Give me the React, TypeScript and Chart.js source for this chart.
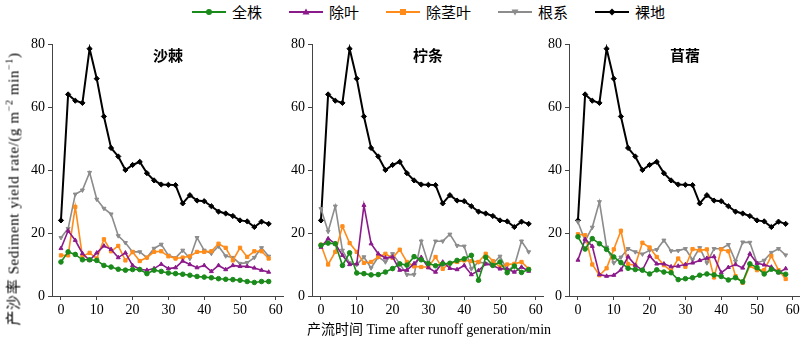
import React, { useEffect, useRef } from 'react';
import { Chart, registerables } from 'chart.js';

Chart.register(...registerables);

// ---------- data ----------
const times = [0, 2, 4, 6, 8, 10, 12, 14, 16, 18, 20, 22, 24, 26, 28, 30, 32, 34, 36, 38, 40, 42, 44, 46, 48, 50, 52, 54, 56, 58];
const legendLabels = ['全株', '除叶', '除茎叶', '根系', '裸地'];
const panelTitles = ['沙棘', '柠条', '苜蓿'];
const xTicks = [0, 10, 20, 30, 40, 50, 60];
const yTicks = [0, 20, 40, 60, 80];
const xTitle = '产流时间 Time after runoff generation/min';

const bareLand = [24, 64, 62, 61.3, 78.5, 69, 57, 47, 44.3, 40, 41.6, 42.6, 39, 36.7, 35.4, 35.3, 35.2, 29.4, 32, 30.3, 30.1, 28.5, 26.8, 26.2, 25.4, 24, 23.7, 21.9, 23.6, 22.9];

// 沙棘
const shajiWhole = [10.8, 14, 13.2, 11.5, 11.5, 11.3, 9.7, 9.2, 8.5, 8.2, 8.4, 8.4, 7.1, 8.2, 7.8, 7.3, 7.1, 6.9, 6.6, 6.2, 6, 5.8, 5.5, 5.3, 5.2, 5, 4.6, 4.3, 4.6, 4.6];
const shajiLeaf = [15.1, 20.7, 17.7, 13.5, 11.3, 13.7, 15.9, 14.8, 12.2, 13.7, 9.7, 8.5, 8.2, 8.7, 10.1, 8.7, 9, 11.1, 10, 9, 9.7, 7.8, 9.7, 8.4, 9.7, 9.4, 9.4, 8.9, 8.2, 7.6];
const shajiStemLeaf = [12.9, 12.9, 28.3, 12.6, 13.7, 11.9, 18, 14.2, 15.9, 11.3, 14, 11.1, 12.2, 14, 14.2, 12.6, 11.9, 12.2, 12.6, 14, 14, 14.2, 16.6, 15.3, 11.3, 15.3, 12.4, 14.2, 14.2, 11.9];
const shajiRoot = [18.5, 21.4, 32.3, 33.6, 39.2, 30.7, 27.8, 26, 19.1, 16.9, 14, 14, 12.2, 15.1, 16.4, 12.9, 12.1, 14.5, 11.9, 18.5, 14.5, 13.5, 15.8, 12.7, 12.2, 10.3, 10.6, 12.2, 15.3, 12.6];

// 柠条
const ningtiaoWhole = [16.1, 16.8, 16.6, 9.7, 13.7, 7.3, 7.1, 6.7, 6.8, 7.6, 8.7, 10.2, 9.8, 12.5, 11.5, 10.3, 9.6, 10.2, 10.4, 11.3, 11.8, 12.9, 5, 12.3, 9.7, 10.8, 7.4, 9.5, 7.5, 8.4];
const ningtiaoLeaf = [15.5, 18.2, 16.6, 12.9, 10, 10.2, 28.8, 16.6, 13.4, 12.1, 12.4, 8.2, 8.2, 10.3, 12.3, 9, 7.6, 10.8, 8.8, 8.4, 9.7, 6.8, 8.1, 10.2, 9.7, 8.6, 8.6, 7.6, 9.2, 7.9];
const ningtiaoStemLeaf = [16.3, 10, 14, 22.1, 16.8, 14, 10.5, 10.8, 12.4, 13.4, 12.1, 14.7, 10.8, 9.4, 9.2, 9.2, 12.4, 8.6, 10.4, 10.8, 11.3, 11.1, 10.8, 13.4, 11.1, 9.2, 10, 10.2, 10.8, 8.6];
const ningtiaoRoot = [27.7, 20.5, 28.5, 14.5, 10.5, 10, 12.4, 8.9, 12.4, 10.8, 13.4, 10.2, 6.8, 6.8, 17.4, 10.2, 17.4, 17.4, 19.6, 16, 15.8, 8.6, 10.8, 10.3, 10.3, 12.6, 8.1, 9.5, 17.4, 14];

// 苜蓿
const muxuWhole = [18.8, 14.9, 18.2, 16.6, 14.8, 12.4, 10.6, 8.8, 8.4, 8.2, 7, 8.3, 7.6, 7.4, 5.2, 5.5, 5.8, 6.6, 7, 6.7, 6.2, 5.1, 5.8, 4.5, 10.2, 9, 7, 8.5, 7.6, 6.9];
const muxuLeaf = [11.4, 18, 15.8, 6.8, 6.3, 6.6, 8.3, 12.5, 9.8, 8.2, 12.7, 10.2, 10.2, 9.3, 9.5, 10, 10.5, 11.3, 12, 12.5, 7.4, 9.1, 10, 8.9, 13.4, 10.4, 9.9, 9.2, 7.4, 8.7];
const muxuStemLeaf = [19.6, 19.3, 10, 6.6, 8.8, 14.8, 20.7, 10.1, 9.8, 16.9, 15.4, 12.4, 9.8, 8, 11.9, 9.3, 14.9, 14.5, 14.8, 5.9, 14.8, 14.2, 6.3, 4.2, 9.6, 8.2, 8.2, 12.7, 8.2, 5.4];
const muxuRoot = [23.5, 17.5, 21.8, 29.9, 15.5, 10.5, 12.3, 15, 14, 13.3, 14.5, 14.7, 17.7, 14.3, 14.4, 15, 11.5, 15.3, 10.5, 15, 15, 16.3, 11, 17.1, 17, 10.5, 11.3, 13.8, 15, 13];

// ---------- styles ----------
const colors = ['#1a8a1a', '#8b1a8b', '#ff8c1a', '#8c8c8c', '#000000'];
const pointStyles = ['circle', 'triangle', 'rect', 'triangle', 'rectRot'];
const pointRotations = [0, 0, 0, 180, 0];
const FONT = "'Liberation Serif', 'Times New Roman', 'Noto Sans CJK SC', serif";

const Y_AXIS_W = 40;
const X_AXIS_H = 30;
const TOP_PAD = 44;
const RIGHT_PAD = 14;
const PLOT_W = 231;
const PLOT_H = 252;

type PanelProps = { title: string; series: number[][]; left: number; titleX: number };

function Panel({ title, series, left, titleX }: PanelProps) {
  const ref = useRef<HTMLCanvasElement | null>(null);
  useEffect(() => {
    if (!ref.current) return;
    const all = [...series, bareLand];
    const chart = new Chart(ref.current, {
      type: 'line',
      data: {
        datasets: all.map((vals, i) => ({
          label: legendLabels[i],
          data: times.map((t, j) => ({ x: t, y: vals[j] })),
          borderColor: colors[i],
          backgroundColor: colors[i],
          borderWidth: i === 4 ? 2 : 1.6,
          pointStyle: pointStyles[i] as any,
          pointRotation: pointRotations[i],
          pointRadius: i === 4 ? 2.6 : 2.3,
          pointBorderWidth: 1,
          tension: 0,
          fill: false,
        })),
      },
      options: {
        animation: false,
        responsive: false,
        devicePixelRatio: 1,
        layout: { padding: { top: TOP_PAD, right: RIGHT_PAD, left: 0, bottom: 0 } },
        plugins: { legend: { display: false }, tooltip: { enabled: false } },
        scales: {
          x: {
            type: 'linear',
            min: -2.5,
            max: 62,
            afterBuildTicks: (s: any) => { s.ticks = xTicks.map((v) => ({ value: v })); },
            afterFit: (s: any) => { s.height = X_AXIS_H; },
            grid: { drawOnChartArea: false, drawTicks: true, tickLength: 4, color: '#444' },
            border: { display: true, color: '#444', width: 1 },
            ticks: { color: '#000', font: { family: FONT, size: 14 }, padding: 2, maxRotation: 0, autoSkip: false },
          },
          y: {
            type: 'linear',
            min: 0,
            max: 80,
            afterBuildTicks: (s: any) => { s.ticks = yTicks.map((v) => ({ value: v })); },
            afterFit: (s: any) => { s.width = Y_AXIS_W; },
            grid: { drawOnChartArea: false, drawTicks: true, tickLength: 4, color: '#444' },
            border: { display: true, color: '#444', width: 1 },
            ticks: { color: '#000', font: { family: FONT, size: 14 }, padding: 3 },
          },
        },
      },
    });
    return () => chart.destroy();
  }, []);
  const w = Y_AXIS_W + PLOT_W + RIGHT_PAD;
  const h = TOP_PAD + PLOT_H + X_AXIS_H;
  return (
    <>
      <canvas
        ref={ref}
        width={w}
        height={h}
        style={{ position: 'absolute', left, top: 0, width: w, height: h }}
      />
      <div
        style={{
          position: 'absolute',
          left: titleX,
          top: 54,
          transform: 'translate(-50%, -50%)',
          fontFamily: FONT,
          fontWeight: 'bold',
          fontSize: 15,
          whiteSpace: 'nowrap',
        }}
      >
        {title}
      </div>
    </>
  );
}

function LegendMarker({ i }: { i: number }) {
  const c = colors[i];
  const cx = 17, cy = 6;
  let m: React.ReactNode = null;
  if (i === 0) m = <circle cx={cx} cy={cy} r={3} fill={c} />;
  if (i === 1) m = <polygon points={`${cx},${cy - 3.5} ${cx + 3.5},${cy + 2.5} ${cx - 3.5},${cy + 2.5}`} fill={c} />;
  if (i === 2) m = <rect x={cx - 3} y={cy - 3} width={6} height={6} fill={c} />;
  if (i === 3) m = <polygon points={`${cx},${cy + 3.5} ${cx + 3.5},${cy - 2.5} ${cx - 3.5},${cy - 2.5}`} fill={c} />;
  if (i === 4) m = <polygon points={`${cx},${cy - 3.5} ${cx + 3.5},${cy} ${cx},${cy + 3.5} ${cx - 3.5},${cy}`} fill={c} />;
  return (
    <svg width={34} height={12} style={{ display: 'block' }}>
      <line x1={0} y1={cy} x2={34} y2={cy} stroke={c} strokeWidth={2} />
      {m}
    </svg>
  );
}

export default function App() {
  return (
    <div style={{ position: 'fixed', left: 0, top: 0, width: 800, height: 340, background: '#fff', overflow: 'hidden' }}>
      <div
        style={{
          position: 'absolute',
          left: 192,
          top: 1,
          display: 'flex',
          alignItems: 'center',
          gap: 27,
          fontFamily: FONT,
          fontSize: 15,
          whiteSpace: 'nowrap',
        }}
      >
        {legendLabels.map((lab, i) => (
          <div key={lab} style={{ display: 'flex', alignItems: 'center' }}>
            <LegendMarker i={i} />
            <span style={{ marginLeft: 6 }}>{lab}</span>
          </div>
        ))}
      </div>

      <Panel title={panelTitles[0]} series={[shajiWhole, shajiLeaf, shajiStemLeaf, shajiRoot]} left={12} titleX={168} />
      <Panel title={panelTitles[1]} series={[ningtiaoWhole, ningtiaoLeaf, ningtiaoStemLeaf, ningtiaoRoot]} left={272} titleX={428} />
      <Panel title={panelTitles[2]} series={[muxuWhole, muxuLeaf, muxuStemLeaf, muxuRoot]} left={529} titleX={685} />

      <div
        style={{
          position: 'absolute',
          left: 12,
          top: 189,
          transform: 'translate(-50%, -50%) rotate(-90deg)',
          fontFamily: FONT,
          fontSize: 15,
          fontWeight: 'normal',
          letterSpacing: 0.6,
          whiteSpace: 'nowrap',
        }}
      >
        产沙率 Sediment yield rate/(g m<sup style={{ fontSize: 10 }}>−2</sup> min<sup style={{ fontSize: 10 }}>−1</sup>)
      </div>

      <div
        style={{
          position: 'absolute',
          left: 429,
          top: 328,
          transform: 'translate(-50%, -50%)',
          fontFamily: FONT,
          fontSize: 14,
          whiteSpace: 'nowrap',
        }}
      >
        {xTitle}
      </div>
    </div>
  );
}
